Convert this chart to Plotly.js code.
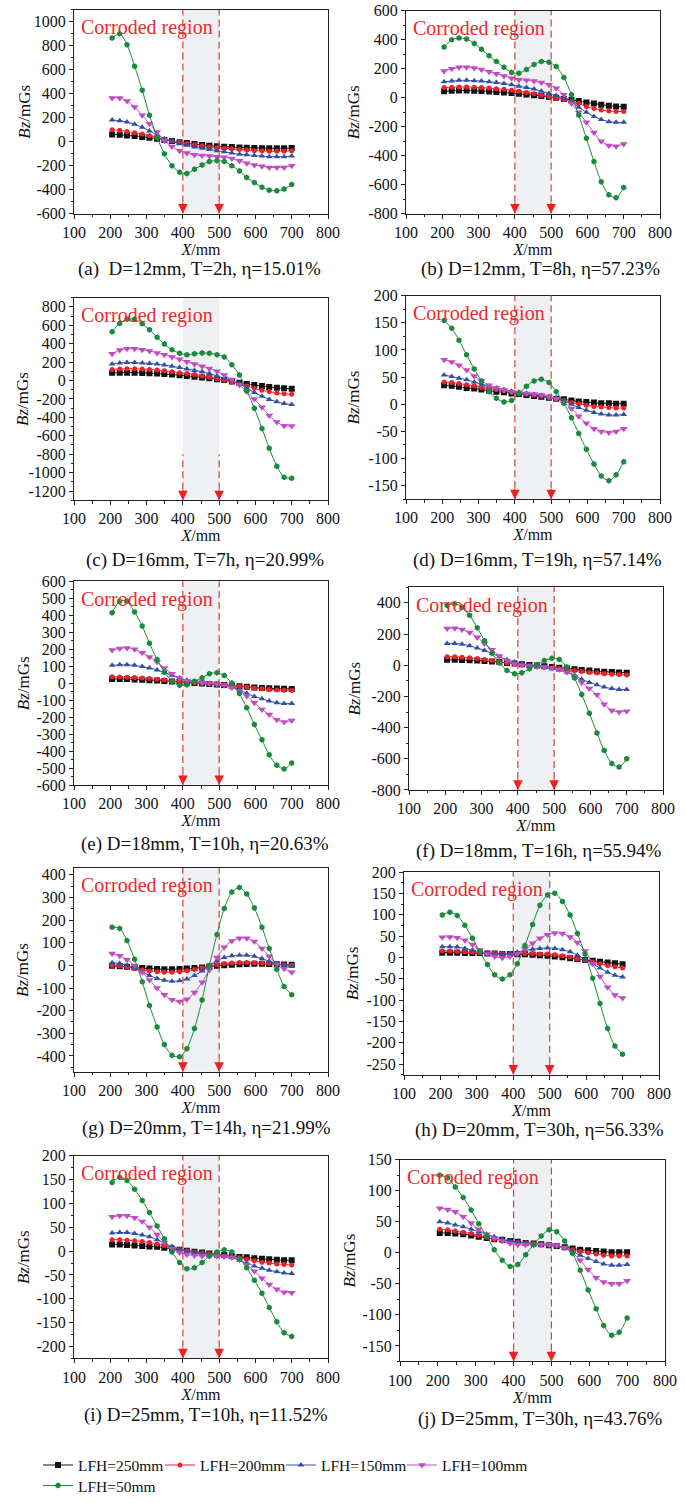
<!DOCTYPE html>
<html>
<head>
<meta charset="utf-8">
<script src="https://cdn.plot.ly/plotly-3.0.1.min.js"></script>
<style>html,body{margin:0;padding:0;background:#fff}#chart{width:685px;height:1503px}</style>
</head>
<body>
<div id="chart"></div>
<script>
// ---------- data ----------
const xPos = [205,226,246,267,288,308,329,349,370,391,411,432,453,473,494,514,535,556,576,597,618,638,659,679,700];
const seriesNames = ['LFH=250mm','LFH=200mm','LFH=150mm','LFH=100mm','LFH=50mm'];
const panelIds = ['a','b','c','d','e','f','g','h','i','j'];
const captions = [
  '(a)  D=12mm, T=2h, \u03b7=15.01%',
  '(b) D=12mm, T=8h, \u03b7=57.23%',
  '(c) D=16mm, T=7h, \u03b7=20.99%',
  '(d) D=16mm, T=19h, \u03b7=57.14%',
  '(e) D=18mm, T=10h, \u03b7=20.63%',
  '(f) D=18mm, T=16h, \u03b7=55.94%',
  '(g) D=20mm, T=14h, \u03b7=21.99%',
  '(h) D=20mm, T=30h, \u03b7=56.33%',
  '(i) D=25mm, T=10h, \u03b7=11.52%',
  '(j) D=25mm, T=30h, \u03b7=43.76%'
];
const regionLabel = 'Corroded region';
const corrodedStart = 400, corrodedEnd = 500;
const xTitle = '<i>X</i>/mm';
const yTitle = '<i>Bz</i>/mGs';

// (a) D=12mm, T=2h
const a_250 = [60,58,52,47,40,33,25,15,5,-5,-12,-20,-27,-33,-38,-42,-45,-48,-50,-52,-54,-55,-55,-55,-53];
const a_200 = [100,95,85,75,65,50,35,20,5,-5,-15,-25,-35,-45,-50,-55,-60,-65,-70,-75,-75,-80,-80,-80,-75];
const a_150 = [180,175,165,145,120,90,55,25,5,-15,-30,-45,-55,-65,-75,-85,-95,-105,-110,-115,-120,-125,-125,-125,-120];
const a_100 = [365,365,340,290,220,150,80,10,-40,-75,-95,-110,-115,-120,-125,-130,-140,-160,-180,-195,-205,-215,-215,-215,-200];
const a_50  = [865,900,810,630,430,220,35,-100,-200,-255,-265,-230,-195,-165,-160,-165,-200,-245,-300,-340,-380,-405,-410,-395,-358];
// (b) D=12mm, T=8h
const b_250 = [45,48,50,50,48,46,43,40,36,32,27,22,17,12,6,0,-8,-15,-22,-32,-40,-48,-55,-60,-62];
const b_200 = [70,72,75,75,72,70,67,62,58,52,45,37,28,18,10,0,-12,-25,-40,-60,-75,-85,-92,-95,-95];
const b_150 = [110,115,120,120,118,115,110,105,98,90,80,70,60,45,30,15,-5,-30,-65,-100,-130,-150,-165,-170,-170];
const b_100 = [185,200,210,210,205,195,180,165,150,135,125,120,115,105,90,65,20,-40,-100,-170,-240,-300,-330,-335,-320];
const b_50  = [350,400,412,405,375,335,290,250,210,175,170,195,230,250,245,215,140,20,-120,-280,-440,-580,-670,-690,-620];
// (c) D=16mm, T=7h
const c_250 = [85,85,85,85,82,80,75,70,65,58,50,42,33,25,15,5,-10,-25,-38,-50,-60,-70,-78,-85,-90];
const c_200 = [120,125,128,128,125,120,115,105,95,85,75,65,50,35,20,5,-15,-35,-60,-85,-105,-120,-135,-145,-150];
const c_150 = [180,190,195,195,190,185,178,168,155,140,125,110,95,75,50,25,0,-35,-80,-130,-170,-205,-230,-250,-260];
const c_100 = [290,330,345,345,335,320,300,280,255,230,205,180,155,130,100,60,10,-50,-120,-200,-290,-380,-450,-490,-495];
const c_50  = [530,620,665,665,615,550,470,395,335,295,280,290,300,295,280,255,170,60,-110,-300,-520,-735,-930,-1050,-1060];
// (d) D=16mm, T=19h
const d_250 = [35,34,32,30,29,27,25,23,22,20,19,17,15,14,12,10,9,7,5,4,3,2,2,1,1];
const d_200 = [41,40,38,36,34,31,29,27,25,23,21,19,17,15,13,10,7,3,1,-2,-4,-5,-6,-7,-7];
const d_150 = [54,51,48,45,41,37,33,30,27,24,22,20,18,16,14,11,6,0,-6,-11,-15,-18,-20,-20,-19];
const d_100 = [82,78,72,63,52,43,35,30,26,23,21,20,19,17,14,10,3,-8,-22,-35,-45,-50,-52,-50,-45];
const d_50  = [154,140,118,91,65,43,23,11,4,7,20,33,43,46,40,23,2,-25,-54,-83,-110,-132,-141,-130,-106];
// (e) D=18mm, T=10h
const e_250 = [25,25,24,22,20,18,16,13,10,7,4,1,-2,-5,-8,-11,-14,-18,-21,-25,-28,-30,-32,-33,-34];
const e_200 = [38,37,35,33,30,27,23,19,15,11,7,3,0,-3,-6,-9,-13,-18,-23,-28,-33,-37,-40,-42,-43];
const e_150 = [105,108,108,105,98,90,78,62,45,30,18,10,4,-2,-8,-15,-25,-40,-60,-78,-92,-105,-115,-120,-120];
const e_100 = [195,205,208,200,180,155,125,90,55,30,15,8,3,0,-5,-12,-25,-45,-75,-115,-155,-185,-215,-228,-220];
const e_50  = [415,483,483,420,337,236,139,65,11,-12,-9,11,32,55,61,46,1,-61,-145,-243,-334,-422,-484,-505,-470];
// (f) D=18mm, T=16h
const f_250 = [35,35,34,32,30,27,24,20,15,11,7,2,-2,-7,-11,-16,-20,-25,-30,-34,-38,-41,-44,-46,-48];
const f_200 = [55,55,52,48,43,37,30,23,15,9,3,-2,-7,-12,-17,-22,-28,-34,-40,-46,-50,-55,-58,-60,-62];
const f_150 = [140,140,135,125,110,95,75,55,35,20,10,0,-8,-15,-23,-32,-45,-65,-90,-110,-125,-140,-150,-155,-155];
const f_100 = [235,238,230,210,180,140,100,60,30,10,0,-5,-8,-12,-18,-28,-45,-70,-110,-150,-190,-250,-290,-300,-295];
const f_50  = [383,395,372,320,241,157,77,15,-33,-54,-48,-23,3,30,45,37,-12,-82,-188,-308,-435,-547,-630,-653,-600];
// (g) D=20mm, T=14h
const g_250 = [-2,-4,-6,-9,-12,-14,-16,-17,-17,-16,-14,-12,-9,-5,-2,1,3,5,6,7,7,6,5,4,3];
const g_200 = [0,-3,-8,-14,-20,-25,-28,-30,-30,-28,-24,-18,-11,-4,3,8,11,13,13,12,10,8,5,3,1];
const g_150 = [12,8,0,-12,-28,-45,-58,-66,-70,-68,-60,-45,-25,0,20,35,42,45,45,40,30,18,7,0,-5];
const g_100 = [52,42,25,0,-30,-65,-100,-130,-152,-160,-150,-120,-75,-20,35,80,108,120,120,105,75,40,5,-15,-30];
const g_50  = [169,163,110,27,-72,-177,-272,-350,-397,-404,-368,-279,-153,-2,137,251,324,344,315,254,169,75,-17,-93,-130];
// (h) D=20mm, T=30h
const h_250 = [11,11,11,10,10,10,9,9,8,8,7,7,6,5,4,2,0,-2,-4,-6,-8,-10,-12,-14,-16];
const h_200 = [15,15,14,13,12,11,10,10,9,9,9,9,9,8,8,6,4,1,-3,-7,-11,-15,-19,-22,-25];
const h_150 = [25,25,24,21,17,13,10,8,8,9,12,16,19,21,22,21,18,13,5,-5,-15,-25,-35,-42,-46];
const h_100 = [47,48,46,40,30,18,8,2,-1,2,8,20,33,45,53,57,56,48,35,15,-15,-45,-70,-88,-95];
const h_50  = [99,106,98,75,45,13,-17,-41,-51,-41,-15,28,77,122,146,150,131,99,56,8,-49,-108,-167,-208,-227];
// (i) D=25mm, T=10h
const i_250 = [14,14,13,12,11,10,9,7,5,3,1,-1,-3,-5,-7,-8,-10,-12,-13,-15,-16,-17,-18,-19,-19];
const i_200 = [24,24,23,22,20,18,15,12,8,4,1,-2,-4,-6,-8,-10,-12,-14,-17,-20,-23,-25,-27,-28,-29];
const i_150 = [38,39,39,37,34,30,24,17,10,4,0,-3,-5,-7,-9,-11,-14,-19,-25,-31,-36,-40,-43,-46,-47];
const i_100 = [72,74,74,70,62,50,35,18,5,-3,-7,-9,-10,-10,-10,-11,-13,-18,-28,-42,-57,-70,-80,-86,-87];
const i_50  = [144,155,148,130,106,81,53,26,-2,-24,-37,-35,-24,-10,-2,3,-2,-16,-35,-61,-88,-118,-148,-171,-179];
// (j) D=25mm, T=30h
const j_250 = [32,32,31,30,28,26,24,22,21,19,18,16,15,14,12,11,9,7,5,4,3,2,1,1,1];
const j_200 = [38,37,35,33,31,28,25,22,20,18,17,16,15,14,13,11,8,5,2,0,-2,-4,-5,-5,-5];
const j_150 = [50,48,45,42,38,34,30,26,22,19,17,16,15,14,13,11,7,2,-4,-9,-14,-18,-20,-20,-19];
const j_100 = [72,70,66,58,48,38,30,24,19,15,13,13,13,13,13,12,8,0,-12,-27,-40,-47,-50,-50,-45];
const j_50  = [125,121,106,89,69,47,27,5,-12,-22,-19,-3,13,27,37,34,19,-1,-28,-60,-90,-117,-133,-128,-105];

// y axis ranges and tick steps
const yRanges = [[-600,1100],[-800,600],[-1300,900],[-175,200],[-600,600],[-800,500],[-470,430],[-275,200],[-225,200],[-175,150]];
const yDticks = [200,200,200,50,100,200,100,50,50,50];

// ---------- styling ----------
const FONT = 'Liberation Serif, Times New Roman, serif';
const colors = ['#111111','#f0202a','#3350a8','#c24bc2','#1a8a3c'];
const symbols = ['square','circle','triangle-up','triangle-down','hexagon'];
const msizes = [6,5,6,7,6];
const W = 685, H = 1503;
// pixel boxes [left, right, top, bottom]
const boxes = [
  [74,328,10,216],[406,660,11,216],
  [74,328,301,506],[406,660,299,505],
  [74,328,588,794],[409,663,594,799],
  [74,328,878,1084],[404,659,882,1087],
  [74,328,1169,1374],[400,665,1173,1377]
];
const capPos = [[200,272],[540,272],[205,566],[537,566],[205,854],[539,861],[206,1141],[539,1143],[206,1431],[540,1435]];
const yTitleOffset = [49,53,51,53,51,54,51,52,51,50];
const dashFrom = [null,null,-800,null,null,null,null,null,null,null];
// legend entry boxes: [left px, top px]
const legendPos = [[38,1465],[160,1465],[281,1465],[402,1465],[38,1486]];

const allSeries = [
  [a_250,a_200,a_150,a_100,a_50],[b_250,b_200,b_150,b_100,b_50],
  [c_250,c_200,c_150,c_100,c_50],[d_250,d_200,d_150,d_100,d_50],
  [e_250,e_200,e_150,e_100,e_50],[f_250,f_200,f_150,f_100,f_50],
  [g_250,g_200,g_150,g_100,g_50],[h_250,h_200,h_150,h_100,h_50],
  [i_250,i_200,i_150,i_100,i_50],[j_250,j_200,j_150,j_100,j_50]
];

const traces = [];
const layout = {
  width: W, height: H,
  margin: {l:0, r:0, t:0, b:0},
  paper_bgcolor: '#fff', plot_bgcolor: '#fff',
  font: {family: FONT, size: 16, color: '#111'},
  showlegend: true,
  shapes: [], annotations: []
};
const legendKeys = seriesNames.map((_, s) => s === 0 ? 'legend' : 'legend' + (s + 1));
legendKeys.forEach((k, s) => {
  layout[k] = {orientation:'h', x: legendPos[s][0] / W, xanchor:'left',
    y: 1 - legendPos[s][1] / H, yanchor:'top', itemwidth: 30,
    font:{family:FONT, size:15.5, color:'#111'}, bgcolor:'rgba(0,0,0,0)', tracegroupgap:0};
});

panelIds.forEach((pid, p) => {
  const n = p === 0 ? '' : String(p + 1);
  const xa = 'x' + n, ya = 'y' + n;
  const [l, r, t, b] = boxes[p];
  const yr = yRanges[p], dt = yDticks[p];
  const tv = [];
  for (let v = Math.ceil(yr[0] / dt) * dt; v <= yr[1] + 1e-9; v += dt) tv.push(v);
  const xtv = [100,200,300,400,500,600,700,800];
  layout['xaxis' + n] = {
    domain: [l / W, r / W], anchor: ya, range: [100, 800],
    tickmode: 'array', tickvals: xtv, ticktext: xtv.map(String),
    ticks: 'outside', ticklen: 4, tickwidth: 1, tickcolor: '#222',
    minor: {tickmode:'linear', tick0: 0, dtick: 50, ticks:'outside', ticklen: 2.5, tickcolor:'#222'},
    showline: true, linecolor: '#222', linewidth: 1, mirror: true,
    showgrid: false, zeroline: false,
    tickfont: {family: FONT, size: 16, color: '#111'},
    title: {text: xTitle, font: {family: FONT, size: 16, color: '#111'}, standoff: 0},
    automargin: false
  };
  layout['yaxis' + n] = {
    domain: [1 - b / H, 1 - t / H], anchor: xa, range: yr,
    tickmode: 'array', tickvals: tv, ticktext: tv.map(String),
    ticks: 'outside', ticklen: 4, tickwidth: 1, tickcolor: '#222',
    minor: {tickmode:'linear', tick0: 0, dtick: dt / 2, ticks:'outside', ticklen: 2.5, tickcolor:'#222'},
    showline: true, linecolor: '#222', linewidth: 1, mirror: true,
    showgrid: false, zeroline: false,
    tickfont: {family: FONT, size: 16, color: '#111'},
    automargin: false
  };
  // y axis title placed as rotated text
  layout.annotations.push({xref:'paper', yref: ya + ' domain', x: (l - yTitleOffset[p]) / W, y: 0.5,
    xanchor:'center', yanchor:'middle', textangle: -90, text: yTitle, showarrow: false,
    font:{family: FONT, size: 17, color:'#111'}});
  // corroded region shading
  layout.shapes.push({type:'rect', xref: xa, yref: ya + ' domain', x0: corrodedStart, x1: corrodedEnd, y0: 0, y1: 1,
    fillcolor:'#eef0f3', line:{width:0}, layer:'below'});
  [corrodedStart, corrodedEnd].forEach(xv => {
    const yStart = dashFrom[p];
    const dashLine = {color:'#c9483a', width:1.2, dash:'7px,4px'};
    layout.shapes.push(yStart === null
      ? {type:'line', xref: xa, yref: ya + ' domain', x0: xv, x1: xv, y0: 0, y1: 1, line: dashLine, layer:'above'}
      : {type:'line', xref: xa, yref: ya, x0: xv, x1: xv, y0: yr[0], y1: yStart, line: dashLine, layer:'above'});
    layout.annotations.push({xref: xa, yref: ya + ' domain', x: xv, y: 0, text: '',
      showarrow: true, ax: 0, ay: -12, arrowhead: 2, arrowsize: 1.6, arrowwidth: 1.2,
      arrowcolor: '#f02020', standoff: 0});
  });
  layout.annotations.push({xref: xa + ' domain', yref: ya + ' domain', x: 0.02, y: 0.912,
    xanchor:'left', yanchor:'middle', text: regionLabel, showarrow:false,
    font:{family: FONT, size: 20, color:'#f02828'}});
  layout.annotations.push({xref:'paper', yref:'paper', x: capPos[p][0] / W, y: 1 - capPos[p][1] / H,
    xanchor:'center', yanchor:'middle', text: captions[p], showarrow:false,
    font:{family: FONT, size: 19, color:'#111'}});

  allSeries[p].forEach((vals, s) => {
    traces.push({
      type:'scatter', mode:'lines+markers', x: xPos, y: vals,
      xaxis: xa, yaxis: ya, name: seriesNames[s],
      showlegend: p === 0, legend: legendKeys[s],
      line: {color: colors[s], width: 1, shape: 'spline', smoothing: 0.8},
      marker: {color: colors[s], symbol: symbols[s], size: msizes[s], line:{width:0}},
      cliponaxis: true
    });
  });
});

Plotly.newPlot('chart', traces, layout, {staticPlot: true, displayModeBar: false});
</script>
</body>
</html>
